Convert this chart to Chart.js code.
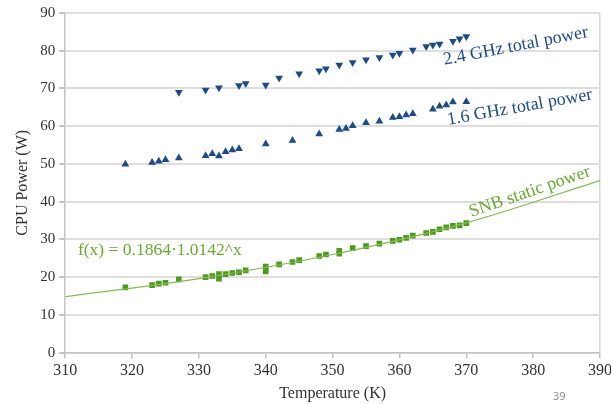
<!DOCTYPE html>
<html>
<head>
<meta charset="utf-8">
<script src="https://cdn.jsdelivr.net/npm/chart.js@4"></script>
<style>
  html, body { margin: 0; padding: 0; background: #fff; }
  #wrap { width: 611px; height: 404px; position: relative; }
</style>
</head>
<body>
<div id="wrap"><canvas id="grafico"></canvas></div>
<script>
// temperaturas (K) e potencias (W)
const temp24 = [327, 331, 333, 336, 337, 340, 342, 345, 348, 349, 351, 353, 355, 357, 359, 360, 362, 364, 365, 366, 368, 369, 370];
const pot24  = [69.0, 69.6, 70.2, 70.8, 71.3, 70.9, 72.8, 73.9, 74.7, 75.2, 76.2, 76.9, 77.6, 78.2, 78.9, 79.3, 80.2, 81.1, 81.5, 81.8, 82.5, 83.2, 83.8];

const temp16 = [319, 323, 324, 325, 327, 331, 332, 333, 334, 335, 336, 340, 344, 348, 351, 352, 353, 355, 357, 359, 360, 361, 362, 365, 366, 367, 368, 370];
const pot16  = [49.9, 50.4, 50.7, 51.1, 51.6, 52.2, 52.7, 52.1, 53.2, 53.7, 54.0, 55.3, 56.2, 57.9, 59.1, 59.4, 60.1, 60.9, 61.3, 62.3, 62.5, 63.0, 63.3, 64.5, 65.3, 65.6, 66.4, 66.5];

const tempSNB = [319, 323, 324, 325, 327, 331, 332, 333, 333, 334, 335, 336, 337, 340, 340, 342, 344, 345, 348, 349, 351, 351, 353, 355, 357, 359, 360, 361, 362, 364, 365, 366, 367, 368, 369, 370];
const potSNB  = [17.3, 17.9, 18.3, 18.5, 19.4, 20.0, 20.3, 19.6, 20.8, 20.8, 21.1, 21.3, 21.8, 21.5, 22.8, 23.4, 24.0, 24.5, 25.6, 26.0, 26.2, 27.0, 27.7, 28.2, 28.9, 29.6, 29.9, 30.4, 31.0, 31.7, 32.0, 32.7, 33.2, 33.6, 33.7, 34.3];

// linha de tendencia
const tempTend = [310, 330, 350, 370, 390];
const potTend  = [14.8, 19.6, 26.0, 34.4, 45.6];

const ticksY = [0, 10, 20, 30, 40, 50, 60, 70, 80, 90];
const ticksX = [310, 320, 330, 340, 350, 360, 370, 380, 390];

const azul = '#1d4a88';
const verde = '#4e9a1e';
const verdeTexto = '#6aa832';
const fonteSerif = '"Liberation Serif", "DejaVu Serif", serif';

function pares(xs, ys) {
  return xs.map((x, i) => ({ x: x, y: ys[i] }));
}

// textos inclinados e rodape
const rotulos = {
  id: 'rotulos',
  afterDatasetsDraw(chart) {
    const c = chart.ctx;
    const sx = chart.scales.x, sy = chart.scales.y;
    const escreve = (txt, vx, vy, ang, cor, tam) => {
      c.save();
      c.translate(sx.getPixelForValue(vx), sy.getPixelForValue(vy));
      c.rotate(ang * Math.PI / 180);
      c.font = tam + 'px ' + fonteSerif;
      c.fillStyle = cor;
      c.textAlign = 'center';
      c.textBaseline = 'middle';
      c.fillText(txt, 0, 0);
      c.restore();
    };
    escreve('2.4 GHz total power', 377.4, 81.2, -11, azul, 18);
    escreve('1.6 GHz total power', 378.0, 65.0, -10, azul, 18);
    escreve('SNB static power', 379.5, 42.6, -19, verdeTexto, 18);
    c.save();
    c.font = '17.5px ' + fonteSerif;
    c.fillStyle = verdeTexto;
    c.textAlign = 'left';
    c.textBaseline = 'middle';
    c.fillText('f(x) = 0.1864\u00b71.0142^x', sx.getPixelForValue(311.9), sy.getPixelForValue(27.2));
    c.font = '11px "Open Sans", sans-serif';
    c.fillStyle = '#888';
    c.fillText('39', 553, 397);
    c.restore();
  }
};

const grafico = new Chart(document.getElementById('grafico'), {
  type: 'scatter',
  data: {
    datasets: [
      {
        label: 'Tendencia',
        type: 'line',
        data: pares(tempTend, potTend),
        borderColor: '#84bb52',
        borderWidth: 1.2,
        pointRadius: 0,
        tension: 0.4,
        cubicInterpolationMode: 'monotone',
        fill: false
      },
      {
        label: '2.4 GHz',
        data: pares(temp24, pot24),
        pointStyle: 'triangle',
        rotation: 180,
        pointRadius: 4.5,
        backgroundColor: azul,
        borderColor: azul,
        borderWidth: 0
      },
      {
        label: '1.6 GHz',
        data: pares(temp16, pot16),
        pointStyle: 'triangle',
        pointRadius: 4.5,
        backgroundColor: azul,
        borderColor: azul,
        borderWidth: 0
      },
      {
        label: 'SNB',
        data: pares(tempSNB, potSNB),
        pointStyle: 'rect',
        pointRadius: 4,
        backgroundColor: verde,
        borderColor: verde,
        borderWidth: 0
      }
    ]
  },
  options: {
    responsive: true,
    maintainAspectRatio: false,
    animation: false,
    layout: { padding: { left: 13, right: 11, top: 1, bottom: 0 } },
    plugins: {
      legend: { display: false },
      tooltip: { enabled: false }
    },
    scales: {
      x: {
        type: 'linear',
        min: 310,
        max: 390,
        afterBuildTicks: (ax) => { ax.ticks = ticksX.map(v => ({ value: v })); },
        afterFit: (ax) => { ax.paddingRight = 0; },
        grid: {
          color: (ctx) => ctx.tick && ctx.tick.value === 390 ? '#d6d6d6' : 'rgba(0,0,0,0)',
          tickColor: '#c4c4c4',
          tickLength: 6,
          lineWidth: 1.5
        },
        border: { color: '#c4c4c4', width: 1.5 },
        ticks: {
          color: '#333',
          font: { family: fonteSerif, size: 16 },
          padding: 3,
          maxRotation: 0
        },
        title: {
          display: true,
          text: 'Temperature (K)',
          color: '#333',
          font: { family: fonteSerif, size: 16 },
          padding: { top: 0, bottom: 1 }
        }
      },
      y: {
        min: 0,
        max: 90,
        afterBuildTicks: (ax) => { ax.ticks = ticksY.map(v => ({ value: v })); },
        grid: {
          color: '#dedede',
          tickColor: '#c4c4c4',
          tickLength: 6,
          lineWidth: 2
        },
        border: { color: '#c4c4c4', width: 1.5 },
        ticks: {
          color: '#333',
          font: { family: fonteSerif, size: 15 },
          padding: 4
        },
        title: {
          display: true,
          text: 'CPU Power (W)',
          color: '#333',
          font: { family: fonteSerif, size: 16 },
          padding: { top: 0, bottom: 4 }
        }
      }
    }
  },
  plugins: [rotulos]
});
</script>
</body>
</html>
